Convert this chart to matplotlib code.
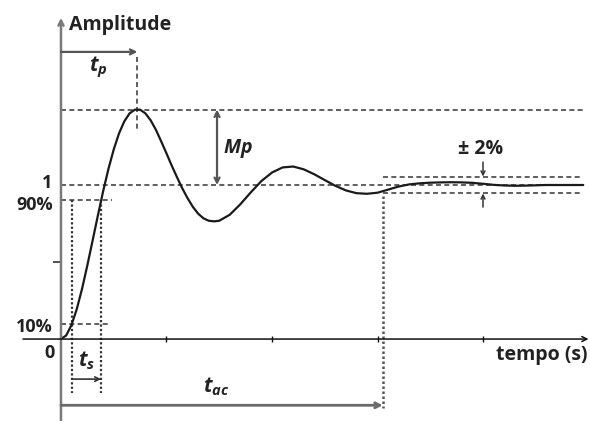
import matplotlib
matplotlib.use("Agg")
import matplotlib.pyplot as plt

plt.rcParams['mathtext.fontset'] = 'custom'
plt.rcParams['mathtext.it'] = 'Open Sans:italic:bold'
plt.rcParams['mathtext.rm'] = 'Open Sans:bold'
plt.rcParams['font.family'] = ['Open Sans', 'DejaVu Sans']

# ---- data (step response) ----
time_s = [0, 0.05, 0.1, 0.15, 0.2, 0.25, 0.3, 0.35, 0.4, 0.45, 0.5, 0.55, 0.6,
          0.65, 0.7, 0.75, 0.8, 0.85, 0.9, 0.95, 1.0, 1.05, 1.1, 1.15, 1.2,
          1.25, 1.3, 1.35, 1.4, 1.45, 1.5, 1.6, 1.7, 1.8, 1.9, 2.0, 2.1, 2.2,
          2.3, 2.4, 2.5, 2.6, 2.7, 2.8, 2.9, 3.0, 3.1, 3.2, 3.3, 3.4, 3.5,
          3.6, 3.7, 3.8, 3.9, 4.0, 4.1, 4.2, 4.3, 4.4, 4.5, 4.6, 4.7, 4.8,
          4.9, 4.95]
amplitude = [0, 0.024, 0.092, 0.195, 0.327, 0.479, 0.640, 0.803, 0.961, 1.105,
             1.231, 1.335, 1.413, 1.465, 1.489, 1.489, 1.465, 1.420, 1.358,
             1.283, 1.205, 1.125, 1.050, 0.978, 0.914, 0.858, 0.814, 0.784,
             0.768, 0.764, 0.768, 0.807, 0.875, 0.953, 1.026, 1.081, 1.114,
             1.120, 1.102, 1.070, 1.032, 0.995, 0.965, 0.947, 0.943, 0.950,
             0.970, 0.990, 1.004, 1.011, 1.015, 1.017, 1.018, 1.017, 1.014,
             1.008, 1.001, 0.997, 0.995, 0.996, 0.998, 1.0, 1.0, 1.0, 1.0, 1.0]

time_ticks = [1, 2, 3, 4]
amp_ticks = [0.5]
peak_level = 1.49
final_level = 1.0
level_90 = 0.9
level_10 = 0.1
band_half = 0.055
t_10 = 0.104
t_90 = 0.38
t_peak = 0.724
t_settle = 3.05
t_end = 4.95

# ---- figure ----
fig = plt.figure(figsize=(5.9, 4.21), dpi=100)
ax = fig.add_axes([0, 0, 1, 1])
ax.set_xlim(-0.578, 5.014)
ax.set_ylim(-0.532, 2.201)
ax.axis('off')

txt = '#222222'
dash_c = '#444444'
dash = (0, (3.0, 2.0))
dot = (0, (1.0, 1.0))

# axes
ax.annotate('', xy=(0, 2.085), xytext=(0, -0.532),
            arrowprops=dict(arrowstyle='->', color='#7a7a7a', lw=1.8,
                            shrinkA=0, shrinkB=0, mutation_scale=9))
ax.annotate('', xy=(5.0, 0), xytext=(-0.36, 0),
            arrowprops=dict(arrowstyle='->', color='#111111', lw=1.1,
                            shrinkA=0, shrinkB=0, mutation_scale=9))
ax.plot(time_ticks, [0] * len(time_ticks), ls='none', marker='|', ms=5,
        mew=1.0, color='#111111')
ax.plot([-0.035] * len(amp_ticks), amp_ticks, ls='none', marker='_', ms=6,
        mew=1.2, color='#333333')

# reference lines
ax.plot([0, t_end], [peak_level, peak_level], ls=dash, color=dash_c, lw=1.2)
ax.plot([0, t_end], [final_level, final_level], ls=dash, color=dash_c, lw=1.2)
ax.plot([0, 0.483], [level_90, level_90], ls=dash, color=dash_c, lw=1.2)
ax.plot([0, 0.464], [level_10, level_10], ls=dash, color=dash_c, lw=1.2)
ax.plot([t_settle, t_end], [final_level + band_half] * 2, ls=dash, color=dash_c, lw=1.2)
ax.plot([t_settle, t_end], [final_level - band_half] * 2, ls=dash, color=dash_c, lw=1.2)

ax.plot([t_peak, t_peak], [1.83, 1.344], ls=dash, color=dash_c, lw=1.2)
ax.plot([t_10, t_10], [level_90, -0.35], ls=dot, color='#333333', lw=1.6)
ax.plot([t_90, t_90], [level_90, -0.35], ls=dot, color='#333333', lw=1.6)
ax.plot([t_settle, t_settle], [0.93, -0.45], ls=dot, color='#555555', lw=1.8)

# response curve
ax.plot(time_s, amplitude, color='#1a1a1a', lw=1.6, solid_capstyle='round')

# arrows
ax.annotate('', xy=(t_peak, 1.864), xytext=(0, 1.864),
            arrowprops=dict(arrowstyle='->', color='#555555', lw=1.6,
                            shrinkA=0, shrinkB=0, mutation_scale=9))
ax.annotate('', xy=(1.479, final_level), xytext=(1.479, peak_level),
            arrowprops=dict(arrowstyle='<->', color='#555555', lw=1.6,
                            shrinkA=0, shrinkB=0, mutation_scale=9))
ax.annotate('', xy=(t_90, -0.26), xytext=(t_10, -0.26),
            arrowprops=dict(arrowstyle='->', color='#333333', lw=1.2,
                            shrinkA=0, shrinkB=0, mutation_scale=8))
ax.annotate('', xy=(t_settle, -0.43), xytext=(0, -0.43),
            arrowprops=dict(arrowstyle='->', color='#6a6a6a', lw=2.0,
                            shrinkA=0, shrinkB=0, mutation_scale=9))
ax.annotate('', xy=(4.0, final_level + band_half), xytext=(4.0, 1.149),
            arrowprops=dict(arrowstyle='->', color='#333333', lw=1.1,
                            shrinkA=0, shrinkB=0, mutation_scale=7))
ax.annotate('', xy=(4.0, final_level - band_half), xytext=(4.0, 0.857),
            arrowprops=dict(arrowstyle='->', color='#333333', lw=1.1,
                            shrinkA=0, shrinkB=0, mutation_scale=7))

# texts
fs = 14
fs_lab = 13
ax.text(0.075, 2.04, 'Amplitude', fontsize=fs, fontweight='bold', color=txt,
        ha='left', va='center')
ax.text(4.995, -0.104, 'tempo (s)', fontsize=fs, fontweight='bold', color=txt,
        ha='right', va='center')
ax.text(-0.085, 1.015, '1', fontsize=fs_lab, fontweight='bold', color=txt,
        ha='right', va='center')
ax.text(-0.076, 0.87, '90%', fontsize=fs_lab, fontweight='bold', color=txt,
        ha='right', va='center')
ax.text(-0.076, 0.078, '10%', fontsize=fs_lab, fontweight='bold', color=txt,
        ha='right', va='center')
ax.text(-0.057, -0.09, '0', fontsize=fs_lab, fontweight='bold', color=txt,
        ha='right', va='center')
ax.text(0.35, 1.76, r'$t_p$', fontsize=fs + 1, color=txt, ha='center', va='center')
ax.text(1.535, 1.24, r'$Mp$', fontsize=fs, color=txt, ha='left', va='center')
ax.text(0.246, -0.143, r'$t_s$', fontsize=fs + 1, color=txt, ha='center', va='center')
ax.text(1.47, -0.31, r'$t_{ac}$', fontsize=fs + 1, color=txt, ha='center', va='center')
ax.text(3.98, 1.234, '± 2%', fontsize=fs, fontweight='bold', color=txt,
        ha='center', va='center')

fig.savefig('out.png', dpi=100)
